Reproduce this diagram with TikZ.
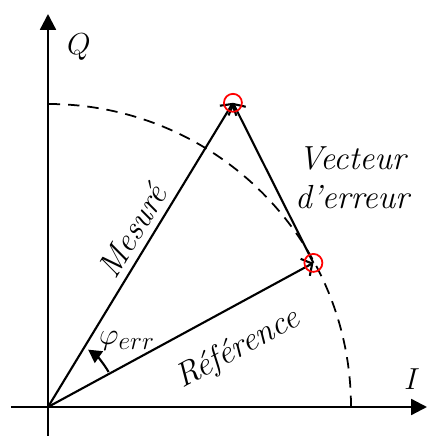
\documentclass[tikz,border=0pt]{standalone}
\usetikzlibrary{arrows.meta}
\tikzset{
  axis/.style={line width=1.3pt, -{Triangle[length=9pt,width=9pt]}},
  vect/.style={line width=1.2pt, -{Straight Barb[length=4.5pt,width=11pt,line width=1.2pt]}},
  marker/.style={circle, draw=red, line width=1pt, minimum size=0.36cm, inner sep=0pt},
  circ/.style={line width=1pt, dash pattern=on 6.5pt off 4.5pt},
  angarrow/.style={line width=1.2pt, -{Triangle[length=7.5pt,width=8pt]}},
  lbl/.style={font=\fontsize{19}{22}\selectfont\itshape}
}

\begin{document}
\begin{tikzpicture}[x=0.02cm, y=0.02cm]
  \useasboundingbox (-48,-29) rectangle (379,407);

  % axes
  \coordinate (O) at (0,0);
  \coordinate (iend) at (379,0);
  \coordinate (istart) at (-37,0);
  \coordinate (qend) at (0,393);
  \coordinate (qstart) at (0,-29);
  \draw[axis] (istart) -- (iend);
  \draw[axis] (qstart) -- (qend);
  \node[lbl] (ilabel) at (364,28) {$I$};
  \node[lbl] (qlabel) at (31,360) {$Q$};

  % unit circle
  \draw[circ] (303,0) arc[start angle=0, end angle=90, radius=303];

  % vectors
  \coordinate (ref) at (28.5:302);
  \coordinate (mes) at (58.7:356);
  \draw[vect] (O) -- (ref);
  \draw[vect] (O) -- (mes);
  \draw[vect] (ref) -- (mes);
  \node[marker] (refmark) at (ref) {};
  \node[marker] (mesmark) at (mes) {};

  \node[lbl, rotate=58.7] (meslabel) at (84,176) {Mesuré};
  \node[lbl, rotate=28.5] (reflabel) at (190,58) {Référence};
  \node[lbl, align=center] (errlabel) at (304,229) {Vecteur\\d'erreur};

  % phase error
  \draw[angarrow] (30:70) arc[start angle=30, end angle=55, radius=70];
  \node[lbl] (philabel) at (79,66) {$\varphi_{err}$};
\end{tikzpicture}
\end{document}
